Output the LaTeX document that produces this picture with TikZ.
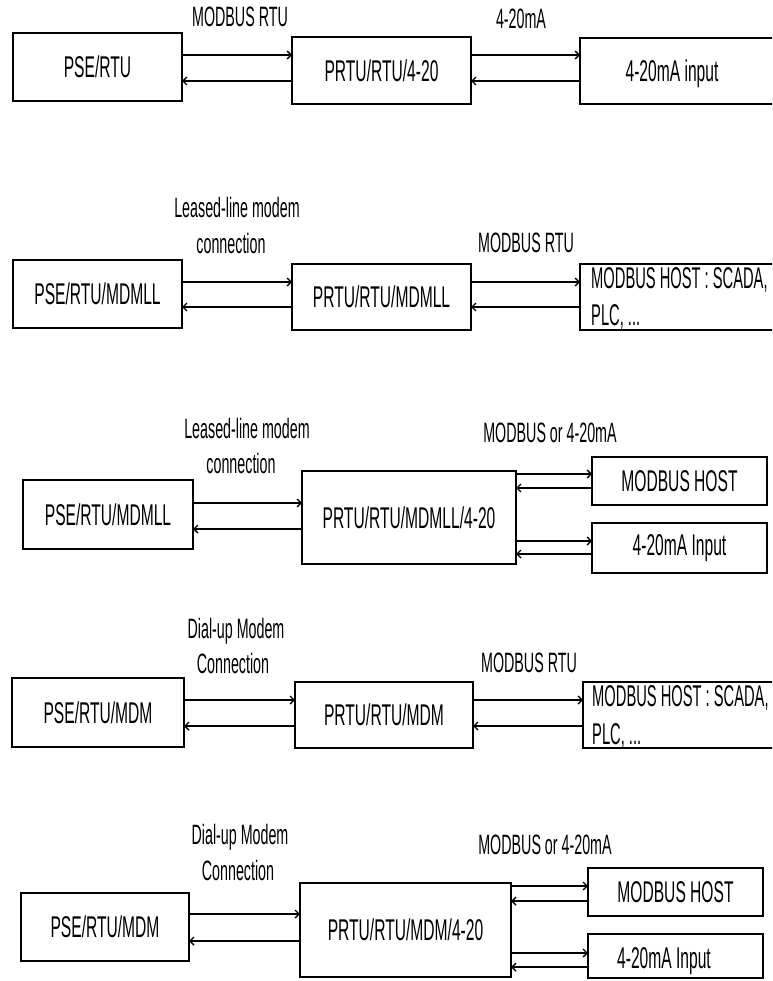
\documentclass[tikz,border=0pt]{standalone}
\usepackage{fontspec}
\setmainfont{Liberation Sans}
\usetikzlibrary{arrows.meta}
\newcommand\cond[1]{\scalebox{0.52}[1]{#1}}
\newcommand\condl[1]{\scalebox{0.51}[1]{#1}}
\newcommand\condw[1]{\scalebox{0.49}[1]{#1}}
\begin{document}
\begin{tikzpicture}[x=1pt,y=-1pt,
  box/.style={draw, line width=1.6pt, inner sep=0pt, outer sep=0pt, font=\fontsize{30}{32}\selectfont},
  boxtext/.style={inner sep=0pt, font=\fontsize{30}{32}\selectfont},
  lbl/.style={inner sep=0pt, font=\fontsize{28}{30}\selectfont},
  arr/.style={line width=1.4pt, -{Straight Barb[length=4pt,width=8pt]}}]
\useasboundingbox[fill=white] (0,0) rectangle (772,981);
\clip (0,0) rectangle (772,981);

% ---------- Section 1 ----------
\node[box, minimum width=169pt, minimum height=68pt] (s1a) at (97.5,67) {\cond{PSE/RTU}};
\node[box, minimum width=179pt, minimum height=67pt] (s1b) at (381.5,70.5) {\cond{PRTU/RTU/4-20}};
\node[box, minimum width=220pt, minimum height=66pt] (s1c) at (690,71) {};
\node[boxtext] (t1c) at (672,74) {\cond{4-20mA input}};
\node[lbl] (l1a) at (240,17) {\condl{MODBUS RTU}};
\node[lbl] (l1b) at (521,19) {\condl{4-20mA}};
\draw[arr] (s1a.east |- 0,55) -- (s1b.west |- 0,55);
\draw[arr] (s1b.west |- 0,81) -- (s1a.east |- 0,81);
\draw[arr] (s1b.east |- 0,55) -- (s1c.west |- 0,55);
\draw[arr] (s1c.west |- 0,81) -- (s1b.east |- 0,81);

% ---------- Section 2 ----------
\node[box, minimum width=169pt, minimum height=68pt] (s2a) at (97.5,294) {\cond{PSE/RTU/MDMLL}};
\node[box, minimum width=179pt, minimum height=66pt] (s2b) at (381.5,297) {\cond{PRTU/RTU/MDMLL}};
\node[box, minimum width=220pt, minimum height=66pt] (s2c) at (690,297) {};
\node[boxtext, anchor=west] (t2c1) at (591,280) {\condw{MODBUS HOST : SCADA,}};
\node[boxtext, anchor=west] (t2c2) at (591,317) {\condw{PLC, ...}};
\node[lbl] (l2a) at (237,207) {\condl{Leased-line modem}};
\node[lbl] (l2b) at (231,243) {\condl{connection}};
\node[lbl] (l2c) at (526,243) {\condl{MODBUS RTU}};
\draw[arr] (s2a.east |- 0,282) -- (s2b.west |- 0,282);
\draw[arr] (s2b.west |- 0,307) -- (s2a.east |- 0,307);
\draw[arr] (s2b.east |- 0,282) -- (s2c.west |- 0,282);
\draw[arr] (s2c.west |- 0,307) -- (s2b.east |- 0,307);

% ---------- Section 3 ----------
\node[box, minimum width=170pt, minimum height=69pt] (s3a) at (108,514.5) {\cond{PSE/RTU/MDMLL}};
\node[box, minimum width=214pt, minimum height=93pt] (s3b) at (409,517.5) {\cond{PRTU/RTU/MDMLL/4-20}};
\node[box, minimum width=175pt, minimum height=48pt] (s3c) at (679.5,481) {\cond{MODBUS HOST}};
\node[box, minimum width=175pt, minimum height=50pt] (s3d) at (679.5,548) {\cond{4-20mA Input}};
\node[lbl] (l3a) at (247,428) {\condl{Leased-line modem}};
\node[lbl] (l3b) at (241,463) {\condl{connection}};
\node[lbl] (l3c) at (550,433) {\condl{MODBUS or 4-20mA}};
\draw[arr] (s3a.east |- 0,503) -- (s3b.west |- 0,503);
\draw[arr] (s3b.west |- 0,529) -- (s3a.east |- 0,529);
\draw[arr] (s3b.east |- 0,474) -- (s3c.west |- 0,474);
\draw[arr] (s3c.west |- 0,488) -- (s3b.east |- 0,488);
\draw[arr] (s3b.east |- 0,541) -- (s3d.west |- 0,541);
\draw[arr] (s3d.west |- 0,554) -- (s3b.east |- 0,554);

% ---------- Section 4 ----------
\node[box, minimum width=172pt, minimum height=69pt] (s4a) at (98,712.5) {\cond{PSE/RTU/MDM}};
\node[box, minimum width=178pt, minimum height=66pt] (s4b) at (384,715) {\cond{PRTU/RTU/MDM}};
\node[box, minimum width=217pt, minimum height=66pt] (s4c) at (691.5,715) {};
\node[boxtext, anchor=west] (t4c1) at (592,698) {\condw{MODBUS HOST : SCADA,}};
\node[boxtext, anchor=west] (t4c2) at (592,736) {\condw{PLC, ...}};
\node[lbl] (l4a) at (236,631) {\condl{Dial-up Modem}};
\node[lbl] (l4b) at (233,663) {\condl{Connection}};
\node[lbl] (l4c) at (529,663) {\condl{MODBUS RTU}};
\draw[arr] (s4a.east |- 0,700) -- (s4b.west |- 0,700);
\draw[arr] (s4b.west |- 0,726) -- (s4a.east |- 0,726);
\draw[arr] (s4b.east |- 0,700) -- (s4c.west |- 0,700);
\draw[arr] (s4c.west |- 0,726) -- (s4b.east |- 0,726);

% ---------- Section 5 ----------
\node[box, minimum width=168pt, minimum height=68pt] (s5a) at (105,927) {\cond{PSE/RTU/MDM}};
\node[box, minimum width=211pt, minimum height=94pt] (s5b) at (405.5,930) {\cond{PRTU/RTU/MDM/4-20}};
\node[box, minimum width=175pt, minimum height=48pt] (s5c) at (675.5,892) {\cond{MODBUS HOST}};
\node[box, minimum width=175pt, minimum height=44pt] (s5d) at (675.5,956) {};
\node[boxtext] (t5d) at (664,961) {\cond{4-20mA Input}};
\node[lbl] (l5a) at (240,837) {\condl{Dial-up Modem}};
\node[lbl] (l5b) at (238,870) {\condl{Connection}};
\node[lbl] (l5c) at (545,845) {\condl{MODBUS or 4-20mA}};
\draw[arr] (s5a.east |- 0,914) -- (s5b.west |- 0,914);
\draw[arr] (s5b.west |- 0,941) -- (s5a.east |- 0,941);
\draw[arr] (s5b.east |- 0,886) -- (s5c.west |- 0,886);
\draw[arr] (s5c.west |- 0,901) -- (s5b.east |- 0,901);
\draw[arr] (s5b.east |- 0,953) -- (s5d.west |- 0,953);
\draw[arr] (s5d.west |- 0,967) -- (s5b.east |- 0,967);
\end{tikzpicture}
\end{document}
